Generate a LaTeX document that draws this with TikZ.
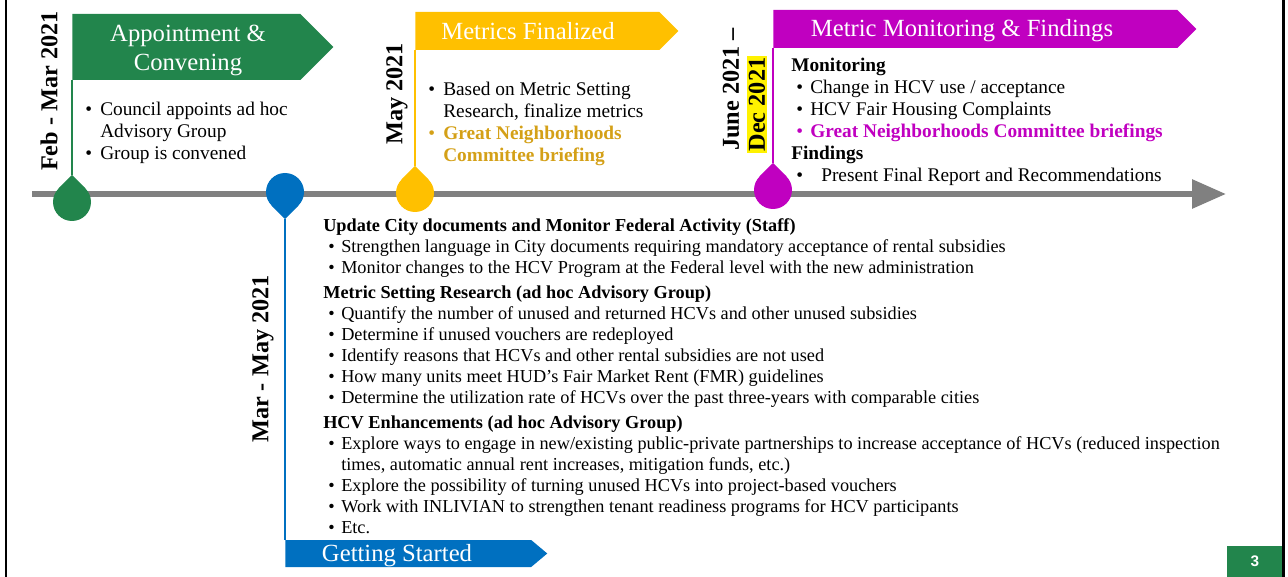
\documentclass[tikz,border=0pt]{standalone}
\usepackage{fontspec}
\setmainfont{Liberation Serif}
\newfontfamily\pagefont{Liberation Sans}
\usepackage{xcolor}
\usepackage{tikz}
\usetikzlibrary{calc, arrows.meta, shapes.symbols, positioning}
\definecolor{appgreen}{RGB}{34,133,76}
\definecolor{startblue}{RGB}{0,112,192}
\definecolor{metricgold}{RGB}{255,192,0}
\definecolor{goldtext}{RGB}{212,160,23}
\definecolor{monmagenta}{RGB}{192,0,192}
\definecolor{axisgray}{RGB}{128,128,128}
\newcommand{\bul}[1][11.25pt]{\makebox[#1][l]{\textbullet}}
\newcommand{\gap}[1][11.25pt]{\hspace*{#1}}
\tikzset{
    bannernode/.style = {signal, signal to=east, draw=none, inner sep=0pt, anchor=west},
    bannertext/.style = {text=white, inner sep=0pt, align=center, 
      font=\fontsize{18.5}{21.75}\selectfont},
    datenode/.style = {rotate=90, inner sep=0pt, font=\fontsize{18.2}{20}\selectfont\bfseries},
    dropnode/.style = {circle, draw=none, inner sep=0pt, minimum size=28.5pt},
    topnode/.style = {align=left, inner sep=0pt, anchor=north west, 
      font=\fontsize{14.5}{16.5}\selectfont},
    listnode/.style = {align=left, inner sep=0pt, anchor=north west, 
      font=\fontsize{13.7}{15.75}\selectfont},
    stem/.style = {line width=1.1pt}
}

\begin{document}
\begin{tikzpicture}[x=0.75pt, y=-0.75pt]
\useasboundingbox (0,0) rectangle (1288,577);

% frame
\draw[line width=1.9pt] (6,0) -- (6,577);
\draw[line width=1.9pt] (1283.5,0) -- (1283.5,577);

% time axis
\coordinate (axisL) at (32,194);
\coordinate (axisR) at (1226,194);
\draw[axisgray, line width=4.5pt, -{Triangle[length=25.5pt, width=21pt]}] (axisL) -- (axisR);

% banners
\node[bannernode, fill=appgreen, name=bApp, minimum width=195.75pt, minimum height=49.5pt] at (72,47) {};
\node[bannertext, name=lApp] at (188,50) {Appointment \&\\Convening};
\node[bannernode, fill=metricgold, name=bMet, minimum width=197.25pt, minimum height=28.5pt] at (415,31) {};
\node[bannertext, name=lMet] at (528,31) {Metrics Finalized};
\node[bannernode, fill=monmagenta, name=bMon, minimum width=317.25pt, minimum height=28.5pt] at (773,29) {};
\node[bannertext, name=lMon] at (962,31) {Metric Monitoring \& Findings};
\node[bannernode, fill=startblue, name=bStart, minimum width=196.5pt, minimum height=20.25pt, 
  signal pointer angle=80] at (285,553.5) {};
\node[bannertext, name=lStart] at (397,556) {Getting Started};

% drops on the axis
\node[dropnode, fill=appgreen, name=dApp] at (72,202) {};
\coordinate (tApp) at ($(dApp.center)+(0,-27)$);
\fill[appgreen] (dApp.45) -- (tApp) -- (dApp.135) -- cycle;
\node[dropnode, fill=startblue, name=dStart] at (285,192) {};
\coordinate (tStart) at ($(dStart.center)+(0,27)$);
\fill[startblue] (dStart.-45) -- (tStart) -- (dStart.-135) -- cycle;
\node[dropnode, fill=metricgold, name=dMet] at (415,193) {};
\coordinate (tMet) at ($(dMet.center)+(0,-27)$);
\fill[metricgold] (dMet.45) -- (tMet) -- (dMet.135) -- cycle;
\node[dropnode, fill=monmagenta, name=dMon] at (773,190) {};
\coordinate (tMon) at ($(dMon.center)+(0,-27)$);
\fill[monmagenta] (dMon.45) -- (tMon) -- (dMon.135) -- cycle;

% stems
\draw[appgreen, stem] (tApp) -- (tApp |- bApp.south);
\draw[metricgold, stem] (tMet) -- (tMet |- bMet.south);
\draw[monmagenta, stem] (tMon) -- (tMon |- bMon.south);
\draw[startblue, stem] (tStart) -- (tStart |- bStart.north);

% dates
\node[datenode, name=dateApp] at (49,91) {Feb - Mar 2021};
\node[datenode, name=dateMet] at (397,94) {May 2021};
\node[datenode, name=dateStart] at (263,359) {Mar - May 2021};
\node[datenode, name=dateMonA, anchor=west] at (731,151) {June 2021 --};
\node[datenode, name=dateMonB, anchor=west, fill=yellow, inner sep=1pt] at (757,153) {Dec 2021};

% texts
\node[topnode, name=txtApp] at (85,102) {\bul Council appoints ad hoc\\
  \gap Advisory Group\\
  \bul Group is convened};
\node[topnode, name=txtMet] at (428,81.5) {\bul Based on Metric Setting\\
  \gap Research, finalize metrics\\
  {\color{goldtext}\bul\bfseries Great Neighborhoods}\\
  \gap{\color{goldtext}\bfseries Committee briefing}};
\node[topnode, name=txtMon] at (791,58) {\textbf{Monitoring}\\
  \gap[3.75pt]\bul[10.5pt]Change in HCV use / acceptance\\
  \gap[3.75pt]\bul[10.5pt]HCV Fair Housing Complaints\\
  {\color{monmagenta}\gap[3.75pt]\bul[10.5pt]\bfseries Great Neighborhoods Committee briefings}\\
  \textbf{Findings}\\
  \gap[3.75pt]\bul[18.75pt]Present Final Report and Recommendations};
\node[listnode, name=txtStart] at (323,218) {\textbf{Update City documents and Monitor Federal Activity (Staff)}\\
  \gap[3.75pt]\bul[9.75pt]Strengthen language in City documents requiring mandatory acceptance of rental subsidies\\
  \gap[3.75pt]\bul[9.75pt]Monitor changes to the HCV Program at the Federal level with the new administration\\[3pt]
  \textbf{Metric Setting Research (ad hoc Advisory Group)}\\
  \gap[3.75pt]\bul[9.75pt]Quantify the number of unused and returned HCVs and other unused subsidies\\
  \gap[3.75pt]\bul[9.75pt]Determine if unused vouchers are redeployed\\
  \gap[3.75pt]\bul[9.75pt]Identify reasons that HCVs and other rental subsidies are not used\\
  \gap[3.75pt]\bul[9.75pt]How many units meet HUD’s Fair Market Rent (FMR) guidelines\\
  \gap[3.75pt]\bul[9.75pt]Determine the utilization rate of HCVs over the past three-years with comparable cities\\[3pt]
  \textbf{HCV Enhancements (ad hoc Advisory Group)}\\
  \gap[3.75pt]\bul[9.75pt]Explore ways to engage in new/existing public-private partnerships to increase acceptance of HCVs (reduced inspection\\
  \gap[13.5pt]times, automatic annual rent increases, mitigation funds, etc.)\\
  \gap[3.75pt]\bul[9.75pt]Explore the possibility of turning unused HCVs into project-based vouchers\\
  \gap[3.75pt]\bul[9.75pt]Work with INLIVIAN to strengthen tenant readiness programs for HCV participants\\
  \gap[3.75pt]\bul[9.75pt]Etc.};

% page number
\node[fill=appgreen, name=pgNum, anchor=south west, inner sep=0pt, minimum width=41.25pt, 
  minimum height=23.25pt, text=white, font=\pagefont\bfseries\fontsize{11.5}{12}\selectfont] at (1227,577) {3};
\end{tikzpicture}
\end{document}
